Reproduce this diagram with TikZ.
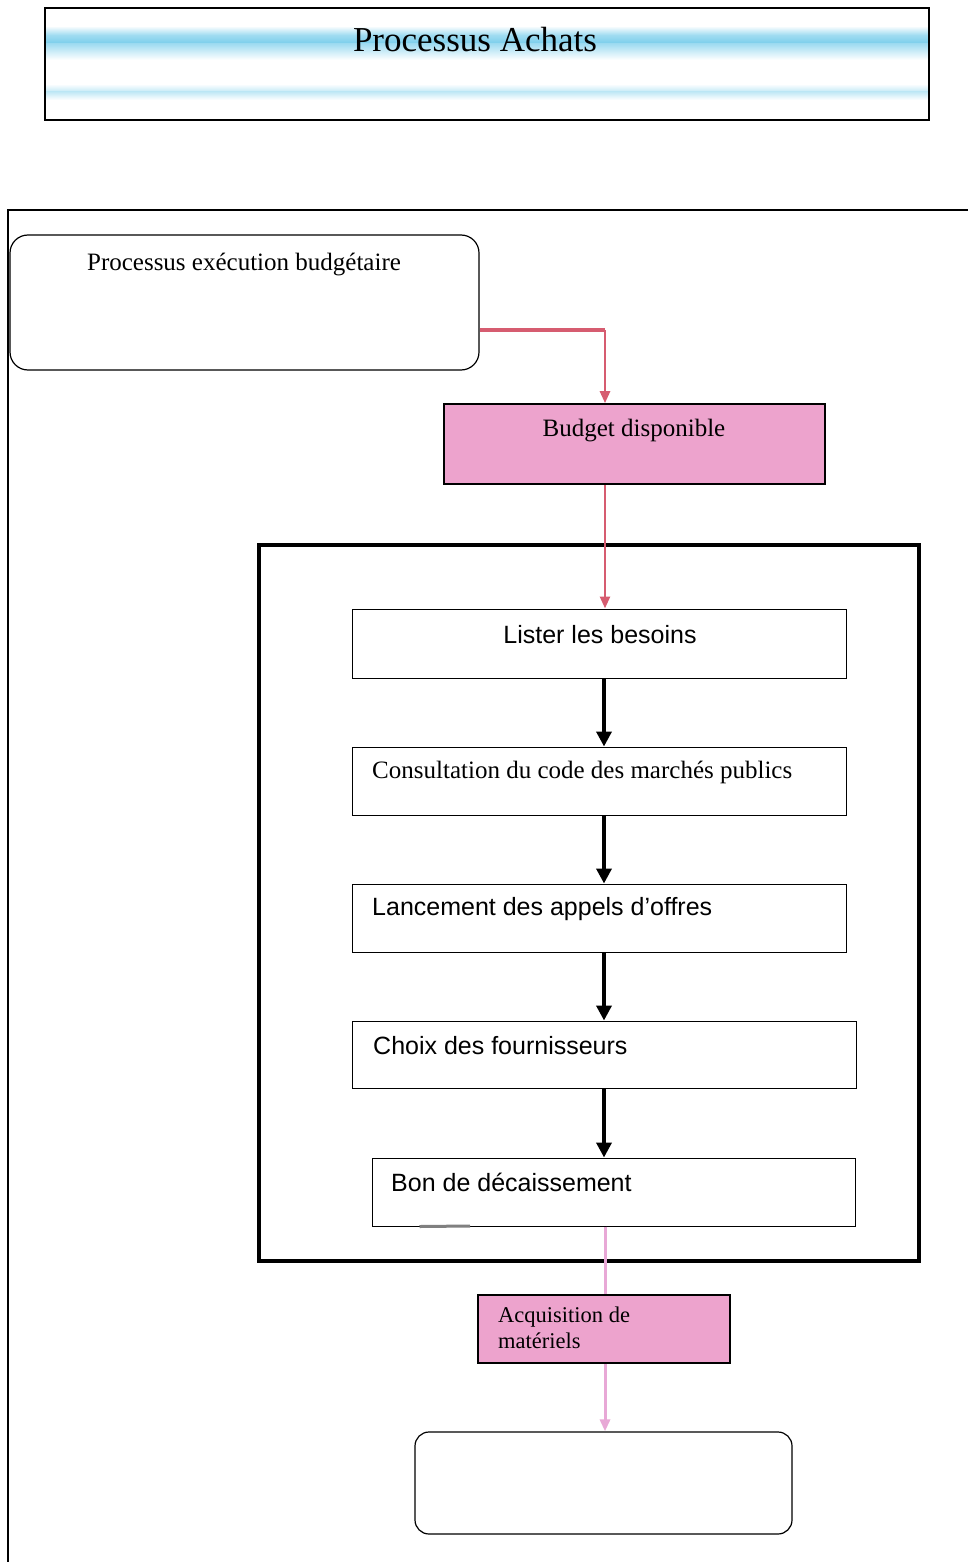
\documentclass[tikz,border=0pt]{standalone}
\usepackage{fontspec}
\setmainfont{Liberation Serif}
\newfontfamily\arialfont{Liberation Sans}
\usetikzlibrary{arrows.meta}

\definecolor{pinkfill}{RGB}{237,163,205}
\definecolor{redline}{RGB}{214,92,112}
\definecolor{pinkline}{RGB}{232,168,214}
\definecolor{streak}{RGB}{120,205,235}

\tikzset{
  box/.style={draw=black, line width=1pt, fill=white, inner sep=0pt},
  pinkbox/.style={draw=black, line width=1.6pt, fill=pinkfill, inner sep=0pt},
  roundbox/.style={draw=black, line width=1.2pt, fill=white, rounded corners=18pt, inner sep=0pt},
  serif/.style={font=\fontsize{25}{29}\selectfont, inner sep=0pt},
  sans/.style={font=\arialfont\fontsize{25}{29}\selectfont, inner sep=0pt},
  blkarrow/.style={line width=3.6pt, -{Triangle[length=15pt,width=15pt]}},
  redarrow/.style={draw=redline, line width=2.6pt, -{Triangle[length=12pt,width=10pt]}},
  pinkarrow/.style={draw=pinkline, line width=3pt, -{Triangle[length=12pt,width=10pt]}},
}

\begin{document}
\begin{tikzpicture}[x=1pt, y=-1pt]
\useasboundingbox (0,0) rectangle (968,1562);

% title banner with its blue streaks
\shade[top color=white, bottom color=streak, middle color=streak!70] (46,26) rectangle (928,44);
\shade[top color=streak!70, bottom color=white] (46,44) rectangle (928,60);
\shade[top color=white, bottom color=streak!45] (46,84) rectangle (928,92);
\shade[top color=streak!45, bottom color=white] (46,92) rectangle (928,100);
\node[draw=black, line width=1.3pt, minimum width=884pt, minimum height=112pt, inner sep=0pt] (title) at (487,64) {};
\node[font=\fontsize{35}{40}\selectfont, inner sep=0pt] (titletext) at (475,40) {Processus Achats};

% outer frame
\draw[line width=2pt] (8,1562) -- (8,210) -- (968,210);

% upstream process
\node[roundbox, minimum width=469pt, minimum height=135pt] (proc) at (244.5,302.5) {};
\node[serif] (proctext) at (244,265) {Processus exécution budgétaire};

% available budget
\node[pinkbox, minimum width=381pt, minimum height=80pt] (budget) at (634.5,444) {};
\node[serif] (budgettext) at (634,431) {Budget disponible};

% purchasing steps frame
\node[draw=black, line width=4pt, minimum width=660pt, minimum height=716pt, inner sep=0pt] (frame) at (589,903) {};

% steps
\node[box, minimum width=494pt, minimum height=69pt] (lister) at (599,643.5) {};
\node[sans] (listertext) at (600,635) {Lister les besoins};

\node[box, minimum width=494pt, minimum height=68pt] (consult) at (599,781) {};
\node[serif, anchor=west] (consulttext) at (372,772) {Consultation du code des marchés publics};

\node[box, minimum width=494pt, minimum height=68pt] (lancement) at (599,918) {};
\node[sans, anchor=west] (lancementtext) at (372,909) {Lancement des appels d’offres};

\node[box, minimum width=504pt, minimum height=67pt] (choix) at (604,1054.5) {};
\node[sans, anchor=west] (choixtext) at (373,1046) {Choix des fournisseurs};

\node[box, minimum width=483pt, minimum height=68pt] (bon) at (613.5,1192) {};
\node[sans, anchor=west] (bontext) at (391,1182) {Bon de décaissement};

% acquisition
\node[pinkbox, minimum width=252pt, minimum height=68pt] (acq) at (604,1329) {};
\node[serif, anchor=north west, align=left, font=\fontsize{22.5}{26}\selectfont] (acqtext) at (498,1307) {Acquisition de\\matériels};

% final outcome
\node[roundbox, rounded corners=14pt, minimum width=377pt, minimum height=102pt] (final) at (603.5,1483) {};

% connectors
\coordinate (bend) at (605,330);
\coordinate (ax) at (604,0);
\coordinate (px) at (605,0);

\draw[draw=redline, line width=4pt] (proc.east |- bend) -- (bend);
\draw[redarrow] (bend) -- (budget.north -| bend);
\draw[redarrow] (budget.south -| px) -- (lister.north -| px);

\draw[blkarrow] (lister.south -| ax) -- (consult.north -| ax);
\draw[blkarrow] (consult.south -| ax) -- (lancement.north -| ax);
\draw[blkarrow] (lancement.south -| ax) -- (choix.north -| ax);
\draw[blkarrow] (choix.south -| ax) -- (bon.north -| ax);

\draw[pinkline, line width=3pt] (bon.south -| px) -- (acq.north -| px);
\draw[pinkarrow] (acq.south -| px) -- (final.north -| px);

% small grey stub under the last step
\coordinate (stub) at (470,1226);
\draw[gray, line width=3pt] (bon.south west) ++(48,0) -- (stub);
\end{tikzpicture}
\end{document}
